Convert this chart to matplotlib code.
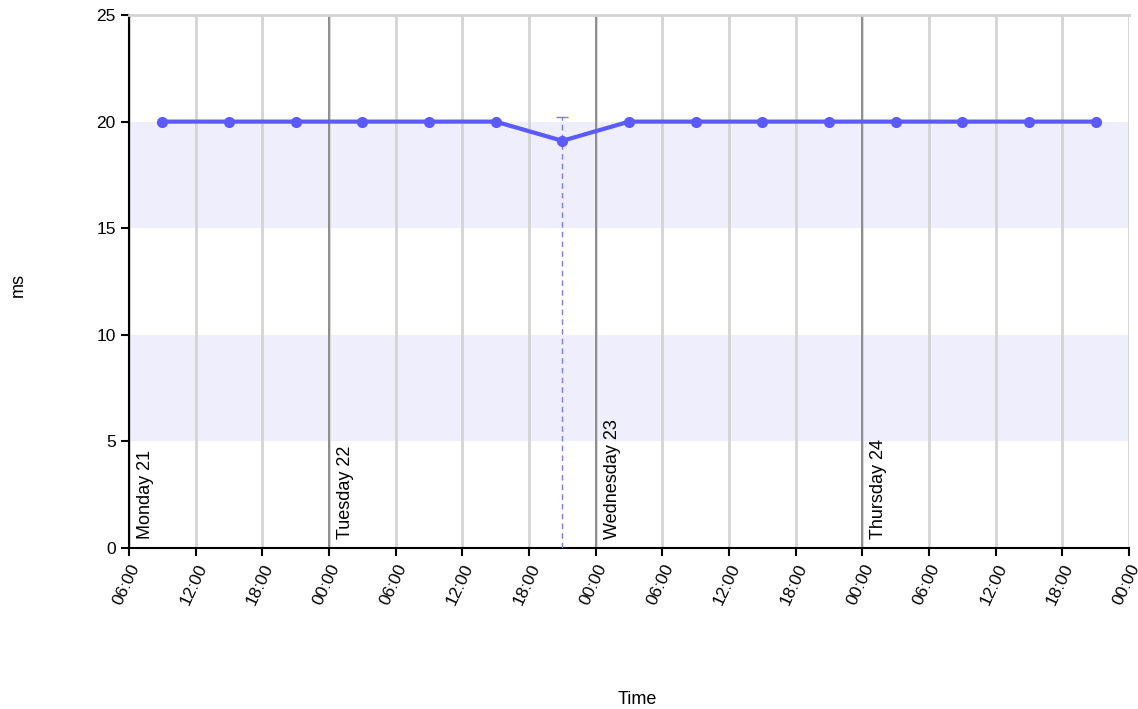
import matplotlib
matplotlib.use('Agg')
import matplotlib.pyplot as plt
import matplotlib.dates as mdates
from datetime import datetime

plt.rcParams['font.family'] = ['Liberation Sans', 'DejaVu Sans']

# data
times = ['2012-05-21 09:00', '2012-05-21 15:00', '2012-05-21 21:00',
         '2012-05-22 03:00', '2012-05-22 09:00', '2012-05-22 15:00',
         '2012-05-22 21:00', '2012-05-23 03:00', '2012-05-23 09:00',
         '2012-05-23 15:00', '2012-05-23 21:00', '2012-05-24 03:00',
         '2012-05-24 09:00', '2012-05-24 15:00', '2012-05-24 21:00']
values = [20, 20, 20, 20, 20, 20, 19.1, 20, 20, 20, 20, 20, 20, 20, 20]
err_low = [0, 0, 0, 0, 0, 0, 19.1, 0, 0, 0, 0, 0, 0, 0, 0]
err_high = [0, 0, 0, 0, 0, 0, 1.1, 0, 0, 0, 0, 0, 0, 0, 0]
day_starts = ['2012-05-21 06:00', '2012-05-22 00:00', '2012-05-23 00:00', '2012-05-24 00:00']
day_labels = ['Monday 21', 'Tuesday 22', 'Wednesday 23', 'Thursday 24']
bands = [(5, 10), (15, 20)]

x_start = datetime(2012, 5, 21, 6)
x_end = datetime(2012, 5, 25, 0)

line_color = '#5a5aff'

fig = plt.figure(figsize=(11.38, 7.09), dpi=100)
ax = fig.add_axes([0.1134, 0.2271, 0.8787, 0.7517])

xs = [datetime.strptime(t, '%Y-%m-%d %H:%M') for t in times]
days = [datetime.strptime(t, '%Y-%m-%d %H:%M') for t in day_starts]

for lo, hi in bands:
    ax.axhspan(lo, hi, color='#eeeefd', lw=0, zorder=0)

# 6 hour grid
ticks = mdates.drange(x_start, x_end, (x_end - x_start) / 15)
ticks = list(ticks) + [mdates.date2num(x_end)]
for t in ticks:
    ax.axvline(t, color='#d4d4d4', lw=2, zorder=1)
for d in days[1:]:
    ax.axvline(d, color='#888888', lw=1.3, zorder=2)

for d, lab in zip(days, day_labels):
    ax.text(mdates.date2num(d) + 0.03, 0.4, lab, rotation=90, ha='left', va='bottom',
            fontsize=13, zorder=5)

# error bar on the dipped point, only the top cap shows
i = 6
eb = ax.errorbar([xs[i]], [values[i]], yerr=[[err_low[i]], [err_high[i]]], fmt='none',
                 ecolor='#7a7aff', elinewidth=1, capsize=4, zorder=3)
eb.lines[1][0].set_visible(False)
for lc in eb.lines[2]:
    lc.set_linestyle((0, (4, 3)))

ax.plot(xs, values, color=line_color, lw=3, marker='o', markersize=7, zorder=4)

ax.set_xlim(x_start, x_end)
ax.set_ylim(0, 25)
ax.set_xticks(ticks)
ax.xaxis.set_major_formatter(mdates.DateFormatter('%H:%M'))
ax.set_yticks([0, 5, 10, 15, 20, 25])
ax.tick_params(axis='both', labelsize=12.5, length=6, width=1.5, color='black')
plt.setp(ax.get_xticklabels(), rotation=65, ha='right', rotation_mode='anchor')

ax.spines['right'].set_visible(False)
ax.spines['top'].set_color('#d4d4d4')
ax.spines['top'].set_linewidth(2)
ax.spines['left'].set_linewidth(1.5)
ax.spines['bottom'].set_linewidth(1.5)

fig.text(0.016, 0.598, 'ms', rotation=90, ha='center', va='center', fontsize=13)
fig.text(0.56, 0.014, 'Time', ha='center', va='center', fontsize=13)

fig.savefig('out.png', dpi=100)
